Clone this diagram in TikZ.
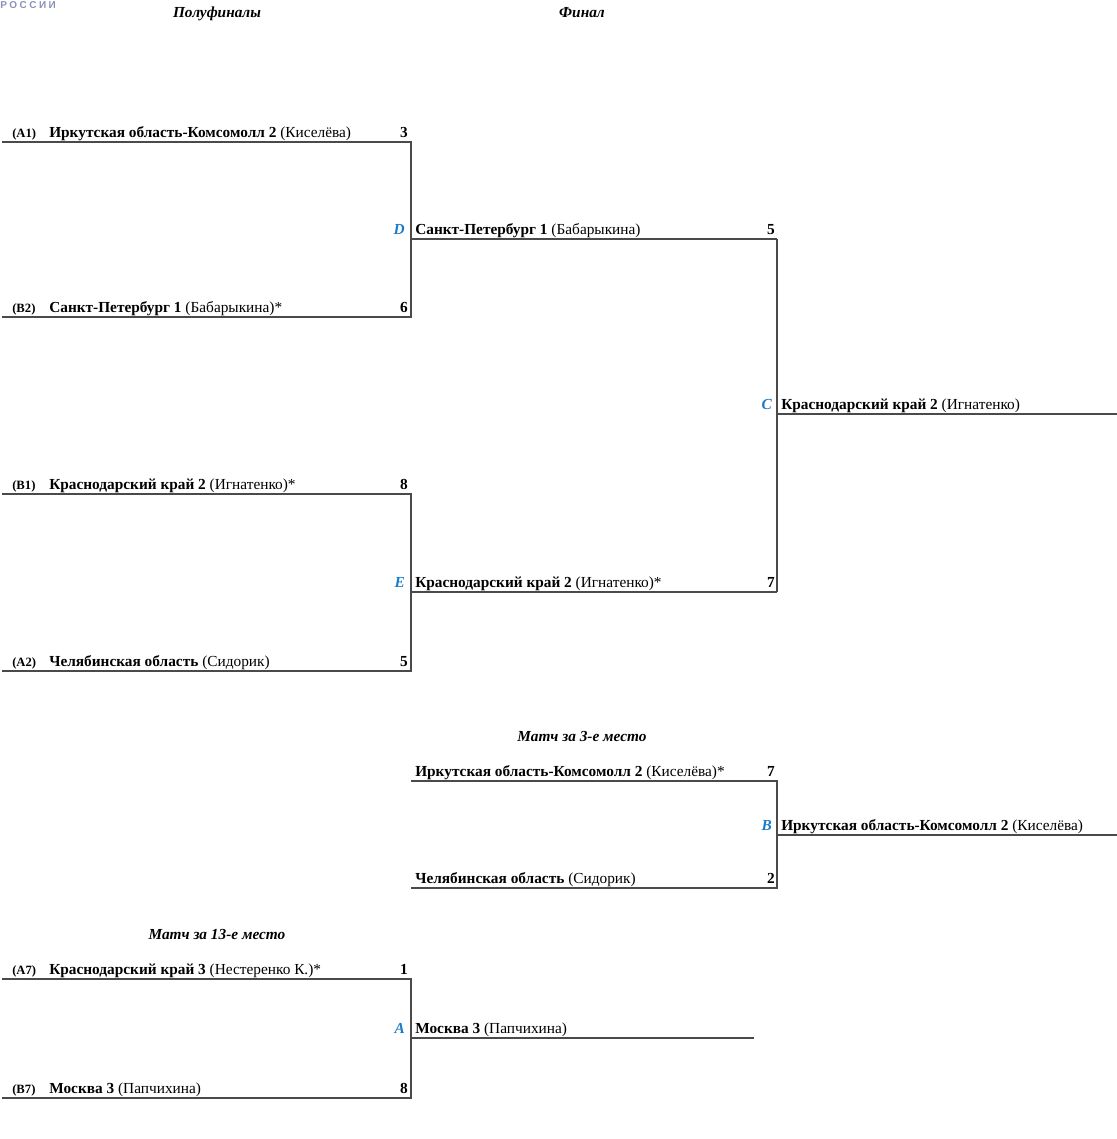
\documentclass[tikz,border=0pt]{standalone}
\usepackage{fontspec}
\setmainfont{Liberation Serif}
\setsansfont{Liberation Sans}
\usepackage{xcolor}
\definecolor{gameblue}{HTML}{1B7BC6}
\definecolor{logoblue}{HTML}{8C90B8}
\definecolor{linegray}{HTML}{4A4A4A}
\newcommand{\team}[2]{\textbf{#1} #2}

\begin{document}
\begin{tikzpicture}[x=0.75pt,y=-0.75pt]
\tikzstyle{bracket}=[draw=linegray, line width=1pt]
\tikzstyle{team}=[anchor=base west, inner sep=0pt, font=\fontsize{11.5}{13}\selectfont]
\tikzstyle{seed}=[anchor=base west, inner sep=0pt, font=\bfseries\fontsize{9.5}{11}\selectfont]
\tikzstyle{score}=[anchor=base east, inner sep=0pt, font=\bfseries\fontsize{11.5}{13}\selectfont]
\tikzstyle{game}=[anchor=base east, inner sep=0pt, text=gameblue, font=\bfseries\itshape\fontsize{11.5}{13}\selectfont]
\tikzstyle{roundtitle}=[anchor=base, inner sep=0pt, font=\bfseries\itshape\fontsize{11.5}{13}\selectfont]

\useasboundingbox (0,0) rectangle (1117,1139);

% headers
\node[anchor=north west, inner sep=0pt, text=logoblue, font=\sffamily\bfseries\fontsize{7.5}{8}\selectfont\addfontfeature{LetterSpace=25}] (logo) at (0,1) {РОССИИ};
\node[roundtitle] (semis) at (217,17) {Полуфиналы};
\node[roundtitle] (final) at (582,17) {Финал};
\node[roundtitle] (third) at (582,741) {Матч за 3-е место};
\node[roundtitle] (thirteen) at (217,939) {Матч за 13-е место};

% semifinal D
\node[seed] (sa1) at (12,137) {(A1)};
\node[team] (ta1) at (49,137) {\team{Иркутская область-Комсомолл 2}{(Киселёва)}};
\node[score] (ra1) at (408,137) {3};
\node[seed] (sb2) at (12,312) {(B2)};
\node[team] (tb2) at (49,312) {\team{Санкт-Петербург 1}{(Бабарыкина)*}};
\node[score] (rb2) at (408,312) {6};
\node[game] (gd) at (405,234) {D};
\node[team] (td) at (415,234) {\team{Санкт-Петербург 1}{(Бабарыкина)}};
\node[score] (rd) at (775,234) {5};

% semifinal E
\node[seed] (sb1) at (12,489) {(B1)};
\node[team] (tb1) at (49,489) {\team{Краснодарский край 2}{(Игнатенко)*}};
\node[score] (rb1) at (408,489) {8};
\node[seed] (sa2) at (12,666) {(A2)};
\node[team] (ta2) at (49,666) {\team{Челябинская область}{(Сидорик)}};
\node[score] (ra2) at (408,666) {5};
\node[game] (ge) at (405,587) {E};
\node[team] (te) at (415,587) {\team{Краснодарский край 2}{(Игнатенко)*}};
\node[score] (re) at (775,587) {7};

% final C
\node[game] (gc) at (772,409) {C};
\node[team] (tc) at (781,409) {\team{Краснодарский край 2}{(Игнатенко)}};

% third place B
\node[team] (t3a) at (415,776) {\team{Иркутская область-Комсомолл 2}{(Киселёва)*}};
\node[score] (r3a) at (775,776) {7};
\node[team] (t3b) at (415,883) {\team{Челябинская область}{(Сидорик)}};
\node[score] (r3b) at (775,883) {2};
\node[game] (gb) at (772,830) {B};
\node[team] (tb) at (781,830) {\team{Иркутская область-Комсомолл 2}{(Киселёва)}};

% 13th place A
\node[seed] (sa7) at (12,974) {(A7)};
\node[team] (ta7) at (49,974) {\team{Краснодарский край 3}{(Нестеренко К.)*}};
\node[score] (ra7) at (408,974) {1};
\node[seed] (sb7) at (12,1093) {(B7)};
\node[team] (tb7) at (49,1093) {\team{Москва 3}{(Папчихина)}};
\node[score] (rb7) at (408,1093) {8};
\node[game] (ga) at (405,1033) {A};
\node[team] (tga) at (415,1033) {\team{Москва 3}{(Папчихина)}};

% bracket lines
\coordinate (a1l) at (2,142);   \coordinate (a1r) at (411,142);
\coordinate (b2l) at (2,317);   \coordinate (b2r) at (411,317);
\coordinate (dl) at (411,239);  \coordinate (dr) at (777,239);
\coordinate (b1l) at (2,494);   \coordinate (b1r) at (411,494);
\coordinate (a2l) at (2,671);   \coordinate (a2r) at (411,671);
\coordinate (el) at (411,592);  \coordinate (er) at (777,592);
\coordinate (cl) at (777,414);  \coordinate (cr) at (1117,414);
\coordinate (t3al) at (411,781); \coordinate (t3ar) at (777,781);
\coordinate (t3bl) at (411,888); \coordinate (t3br) at (777,888);
\coordinate (bl) at (777,835);  \coordinate (br) at (1117,835);
\coordinate (a7l) at (2,979);   \coordinate (a7r) at (411,979);
\coordinate (b7l) at (2,1098);  \coordinate (b7r) at (411,1098);
\coordinate (al) at (411,1038); \coordinate (ar) at (754,1038);

\draw[bracket] (a1l) -- (a1r) -- (b2r) -- (b2l);
\draw[bracket] (dl) -- (dr);
\draw[bracket] (b1l) -- (b1r) -- (a2r) -- (a2l);
\draw[bracket] (el) -- (er);
\draw[bracket] (dr) -- (er);
\draw[bracket] (cl) -- (cr);
\draw[bracket] (t3al) -- (t3ar) -- (t3br) -- (t3bl);
\draw[bracket] (bl) -- (br);
\draw[bracket] (a7l) -- (a7r) -- (b7r) -- (b7l);
\draw[bracket] (al) -- (ar);
\end{tikzpicture}
\end{document}
